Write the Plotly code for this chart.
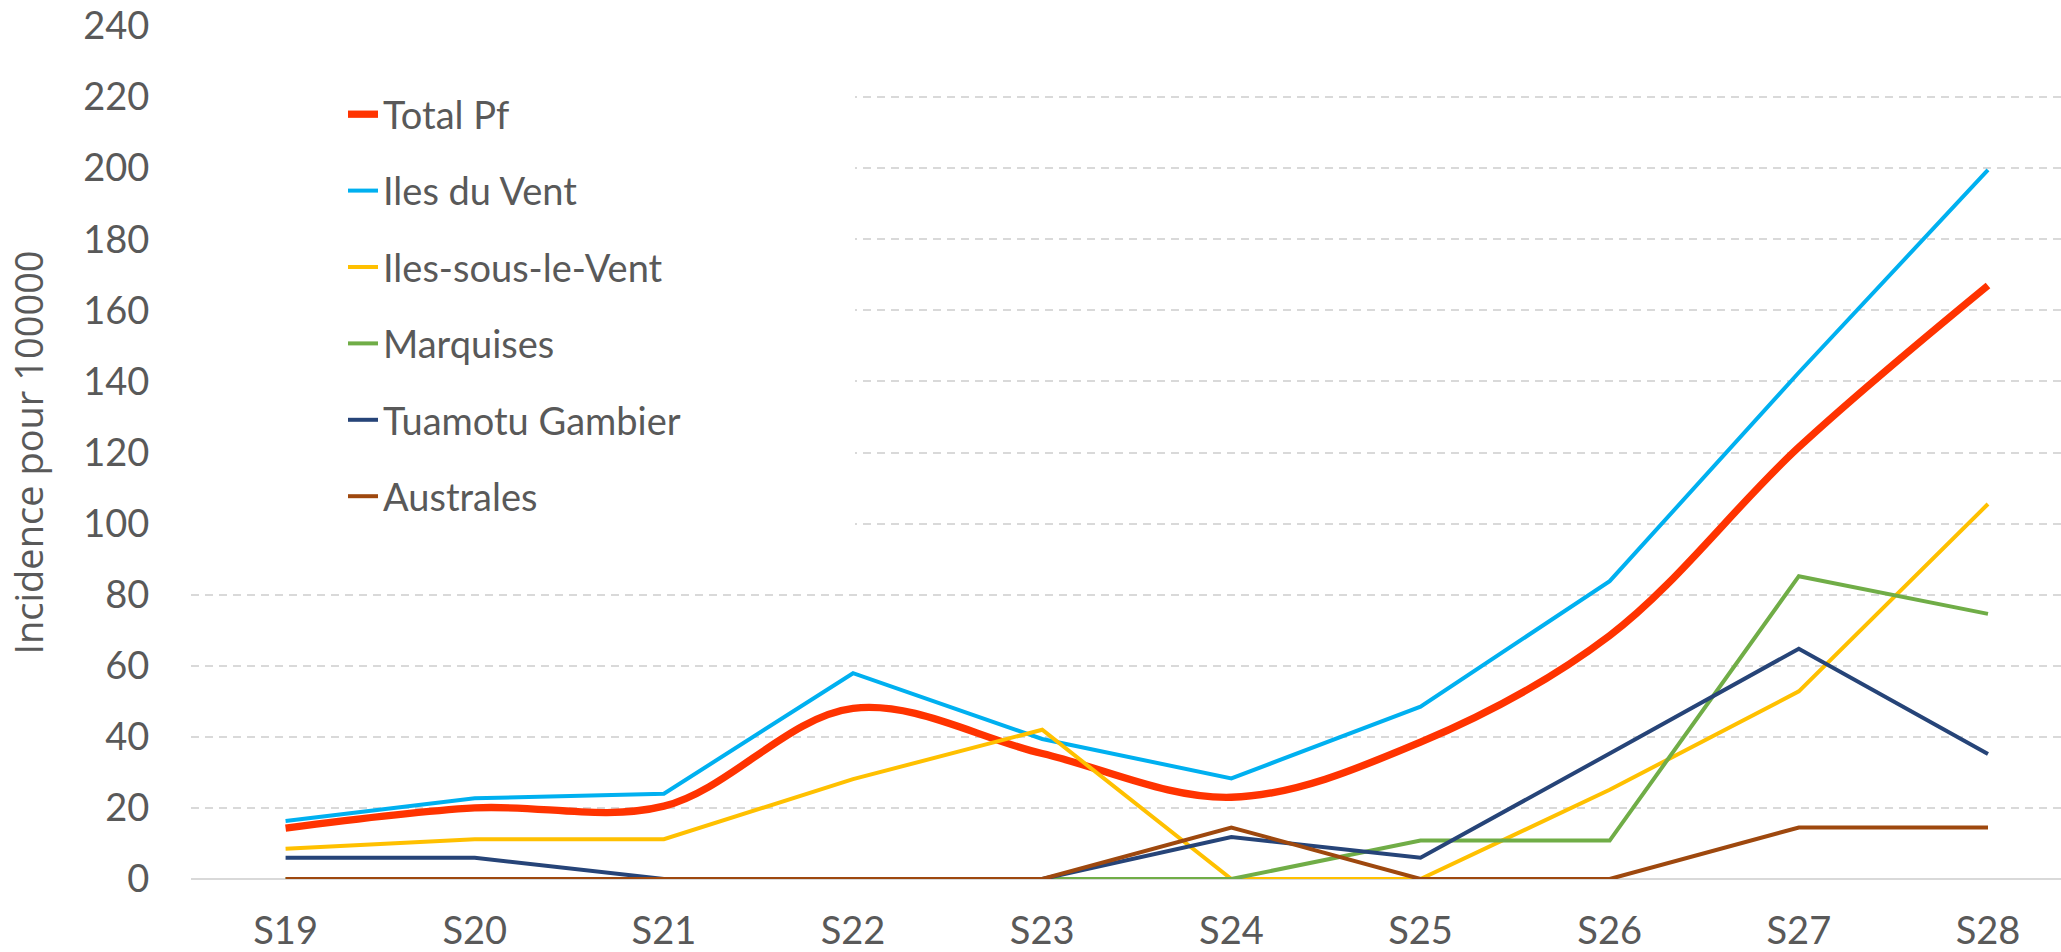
import plotly.graph_objects as go

weeks = ["S19", "S20", "S21", "S22", "S23", "S24", "S25", "S26", "S27", "S28"]
total_pf = [14.3, 20.0, 20.5, 48.0, 35.3, 23.0, 38.5, 68.5, 121.5, 167.0]
iles_du_vent = [16.3, 22.7, 24.0, 57.9, 39.4, 28.3, 48.5, 83.8, 142.5, 199.5]
iles_sous_le_vent = [8.5, 11.2, 11.2, 28.1, 42.0, 0.0, 0.0, 25.1, 52.8, 105.5]
marquises = [0.0, 0.0, 0.0, 0.0, 0.0, 0.0, 10.8, 10.8, 85.2, 74.6]
tuamotu_gambier = [6.0, 6.0, 0.0, 0.0, 0.0, 11.8, 6.0, 35.3, 64.8, 35.2]
australes = [0.0, 0.0, 0.0, 0.0, 0.0, 14.5, 0.0, 0.0, 14.5, 14.5]

series = [
    ("Total Pf", total_pf, "#FF3300", 7.3, "spline"),
    ("Iles du Vent", iles_du_vent, "#00B0F0", 4, "linear"),
    ("Iles-sous-le-Vent", iles_sous_le_vent, "#FFC000", 4, "linear"),
    ("Marquises", marquises, "#70AD47", 4, "linear"),
    ("Tuamotu Gambier", tuamotu_gambier, "#264478", 4, "linear"),
    ("Australes", australes, "#9E480E", 4, "linear"),
]

W, H = 2061, 952
ML, MR, MT, MB = 191, 0, 26, 73
PW, PH = W - ML - MR, H - MT - MB

fig = go.Figure()
for i, (name, vals, color, width, shape) in enumerate(series):
    line = dict(color=color, width=width, shape=shape)
    if shape == "spline":
        line["smoothing"] = 1.0
    fig.add_trace(go.Scatter(
        x=weeks, y=vals, name=name, mode="lines", line=line,
        legendgroup=f"g{i}", hoverinfo="skip",
    ))

def px_x(p):
    return (p - ML) / PW

def px_y(p):
    return 1 - (p - MT) / PH

text_color = "#595959"
tick_font = dict(family="Lato, Carlito, sans-serif", size=38, color=text_color)

fig.update_layout(
    width=W, height=H,
    margin=dict(l=ML, r=MR, t=MT, b=MB, pad=0, autoexpand=False),
    paper_bgcolor="white", plot_bgcolor="white",
    showlegend=True,
    legend=dict(
        x=px_x(343), y=px_y(83), xanchor="left", yanchor="top",
        bgcolor="rgba(0,0,0,0)", borderwidth=0,
        font=tick_font, tracegroupgap=24,
    ),
    xaxis=dict(
        type="category", categoryorder="array", categoryarray=weeks,
        range=[-0.5, 9.386], showgrid=False, zeroline=False, showline=False,
        ticks="outside", ticklen=18, tickcolor="rgba(0,0,0,0)",
        tickfont=tick_font, fixedrange=True, automargin=False,
    ),
    yaxis=dict(
        range=[0, 240], dtick=20, tick0=0,
        showgrid=True, gridcolor="#D9D9D9", gridwidth=2, griddash="8px,6px",
        zeroline=True, zerolinecolor="#D9D9D9", zerolinewidth=2,
        showline=False,
        ticks="outside", ticklen=33, tickcolor="rgba(0,0,0,0)",
        tickfont=tick_font, automargin=False,
        title=dict(text="Incidence pour 100000",
                   font=dict(family="Open Sans, sans-serif", size=38, color=text_color),
                   standoff=27),
        fixedrange=True,
    ),
    shapes=[dict(
        type="rect", xref="paper", yref="paper",
        x0=0, x1=px_x(855), y0=px_y(550), y1=px_y(75),
        fillcolor="white", line=dict(width=0), layer="above",
    )],
)

fig.write_html(
    "out.html",
    config={"displayModeBar": False},
    post_script="document.body.style.margin='0';document.body.style.overflow='hidden';",
)
